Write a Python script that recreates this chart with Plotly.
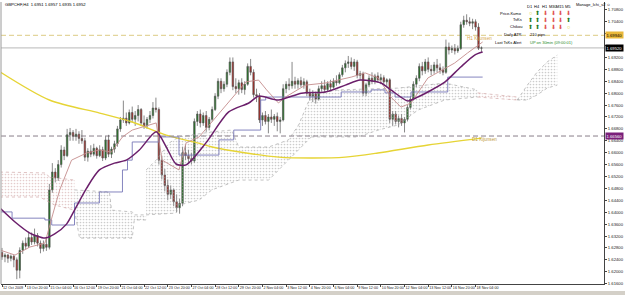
import plotly.graph_objects as go

# ---------------- data ----------------
bar_open = [1.6265,1.6250,1.6256,1.6245,1.6252,1.6240,1.6205,1.6272,1.6296,1.6286,
            1.6315,1.6300,1.6322,1.6296,1.6278,1.6292,1.6282,1.6475,1.6535,1.6515,
            1.6560,1.6609,1.6590,1.6660,1.6668,1.6655,1.6662,1.6648,1.6640,1.6585,
            1.6605,1.6595,1.6615,1.6590,1.6610,1.6582,1.6643,1.6595,1.6612,1.6630,
            1.6680,1.6710,1.6716,1.6700,1.6735,1.6712,1.6725,1.6745,1.6700,1.6690,
            1.6712,1.6725,1.6750,1.6745,1.6575,1.6525,1.6490,1.6460,1.6475,1.6435,
            1.6415,1.6430,1.6600,1.6590,1.6580,1.6572,1.6705,1.6730,1.6700,1.6725,
            1.6685,1.6712,1.6745,1.6790,1.6840,1.6815,1.6830,1.6870,1.6905,1.6822,
            1.6815,1.6835,1.6812,1.6830,1.6890,1.6870,1.6795,1.6790,1.6710,1.6725,
            1.6705,1.6720,1.6712,1.6722,1.6705,1.6710,1.6815,1.6830,1.6825,1.6840,
            1.6830,1.6842,1.6828,1.6838,1.6800,1.6790,1.6798,1.6780,1.6815,1.6825,
            1.6812,1.6832,1.6820,1.6840,1.6835,1.6862,1.6885,1.6900,1.6905,1.6890,
            1.6905,1.6860,1.6865,1.6800,1.6828,1.6850,1.6840,1.6858,1.6845,1.6852,
            1.6838,1.6845,1.6712,1.6730,1.6705,1.6715,1.6700,1.6712,1.6752,1.6780,
            1.6830,1.6850,1.6890,1.6875,1.6905,1.6880,1.6875,1.6895,1.6885,1.6878,
            1.6870,1.6955,1.6945,1.6950,1.6942,1.6950,1.7030,1.7045,1.7040,1.7035,
            1.7040,1.7022,1.6951]
bar_high = [1.6280,1.6262,1.6260,1.6258,1.6256,1.6248,1.6282,1.6305,1.6315,1.6335,
            1.6332,1.6345,1.6330,1.6305,1.6305,1.6312,1.6495,1.6565,1.6548,1.6575,
            1.6625,1.6620,1.6680,1.6683,1.6676,1.6680,1.6672,1.6676,1.6650,1.6615,
            1.6625,1.6630,1.6620,1.6625,1.6620,1.6655,1.6660,1.6620,1.6640,1.6690,
            1.6720,1.6775,1.6735,1.6745,1.6755,1.6740,1.6760,1.6750,1.6725,1.6720,
            1.6740,1.6770,1.6785,1.6752,1.6590,1.6545,1.6510,1.6490,1.6480,1.6460,
            1.6445,1.6620,1.6625,1.6610,1.6600,1.6715,1.6740,1.6745,1.6735,1.6740,
            1.6720,1.6755,1.6800,1.6850,1.6850,1.6840,1.6880,1.6920,1.6920,1.6850,
            1.6845,1.6850,1.6840,1.6900,1.6915,1.6880,1.6815,1.6800,1.6735,1.6740,
            1.6730,1.6745,1.6730,1.6735,1.6720,1.6830,1.6840,1.6850,1.6905,1.6855,
            1.6850,1.6855,1.6850,1.6845,1.6815,1.6810,1.6805,1.6825,1.6840,1.6845,
            1.6840,1.6845,1.6850,1.6860,1.6870,1.6895,1.6910,1.6925,1.6920,1.6915,
            1.6912,1.6875,1.6872,1.6835,1.6860,1.6870,1.6865,1.6870,1.6865,1.6860,
            1.6850,1.6850,1.6740,1.6740,1.6725,1.6730,1.6720,1.6760,1.6790,1.6840,
            1.6860,1.6900,1.6905,1.6915,1.6920,1.6895,1.6905,1.6915,1.6900,1.6890,
            1.6980,1.6970,1.6960,1.6965,1.6960,1.7040,1.7060,1.7065,1.7055,1.7050,
            1.7048,1.7035,1.6957]
bar_low = [1.6240,1.6232,1.6230,1.6235,1.6215,1.6175,1.6178,1.6260,1.6275,1.6280,
           1.6290,1.6292,1.6285,1.6262,1.6268,1.6270,1.6275,1.6465,1.6500,1.6505,
           1.6550,1.6575,1.6585,1.6640,1.6640,1.6640,1.6630,1.6630,1.6572,1.6570,
           1.6585,1.6588,1.6580,1.6585,1.6572,1.6575,1.6585,1.6582,1.6600,1.6620,
           1.6670,1.6700,1.6690,1.6695,1.6700,1.6690,1.6705,1.6690,1.6680,1.6680,
           1.6700,1.6715,1.6735,1.6560,1.6510,1.6470,1.6440,1.6445,1.6420,1.6400,
           1.6395,1.6420,1.6575,1.6565,1.6560,1.6565,1.6690,1.6685,1.6690,1.6670,
           1.6675,1.6705,1.6740,1.6780,1.6800,1.6805,1.6820,1.6860,1.6810,1.6800,
           1.6795,1.6800,1.6795,1.6825,1.6860,1.6785,1.6770,1.6700,1.6690,1.6695,
           1.6665,1.6700,1.6690,1.6672,1.6665,1.6705,1.6800,1.6810,1.6815,1.6815,
           1.6815,1.6820,1.6815,1.6790,1.6775,1.6770,1.6765,1.6775,1.6805,1.6800,
           1.6805,1.6810,1.6815,1.6825,1.6830,1.6855,1.6870,1.6885,1.6880,1.6875,
           1.6850,1.6845,1.6790,1.6790,1.6820,1.6830,1.6830,1.6835,1.6830,1.6830,
           1.6820,1.6700,1.6690,1.6695,1.6685,1.6690,1.6668,1.6705,1.6745,1.6775,
           1.6820,1.6840,1.6860,1.6865,1.6870,1.6860,1.6865,1.6870,1.6865,1.6860,
           1.6865,1.6930,1.6935,1.6930,1.6935,1.6945,1.7020,1.7030,1.7025,1.7015,
           1.7010,1.6945,1.6935]
bar_close = [1.6250,1.6256,1.6245,1.6252,1.6240,1.6205,1.6272,1.6296,1.6286,1.6315,
             1.6300,1.6322,1.6296,1.6278,1.6292,1.6282,1.6475,1.6535,1.6515,1.6560,
             1.6609,1.6590,1.6660,1.6668,1.6655,1.6662,1.6648,1.6640,1.6585,1.6605,
             1.6595,1.6615,1.6590,1.6610,1.6582,1.6643,1.6595,1.6612,1.6630,1.6680,
             1.6710,1.6716,1.6700,1.6735,1.6712,1.6725,1.6745,1.6700,1.6690,1.6712,
             1.6725,1.6750,1.6745,1.6575,1.6525,1.6490,1.6460,1.6475,1.6435,1.6415,
             1.6430,1.6600,1.6590,1.6580,1.6572,1.6705,1.6730,1.6700,1.6725,1.6685,
             1.6712,1.6745,1.6790,1.6840,1.6815,1.6830,1.6870,1.6905,1.6822,1.6815,
             1.6835,1.6812,1.6830,1.6890,1.6870,1.6795,1.6790,1.6710,1.6725,1.6705,
             1.6720,1.6712,1.6722,1.6705,1.6710,1.6815,1.6830,1.6825,1.6840,1.6830,
             1.6842,1.6828,1.6838,1.6800,1.6790,1.6798,1.6780,1.6815,1.6825,1.6812,
             1.6832,1.6820,1.6840,1.6835,1.6862,1.6885,1.6900,1.6905,1.6890,1.6905,
             1.6860,1.6865,1.6800,1.6828,1.6850,1.6840,1.6858,1.6845,1.6852,1.6838,
             1.6845,1.6712,1.6730,1.6705,1.6715,1.6700,1.6712,1.6752,1.6780,1.6830,
             1.6850,1.6890,1.6875,1.6905,1.6880,1.6875,1.6895,1.6885,1.6878,1.6870,
             1.6955,1.6945,1.6950,1.6942,1.6950,1.7030,1.7045,1.7040,1.7035,1.7040,
             1.7022,1.6951,1.6952]

date_tick_bars = [0, 8, 16, 24, 32, 40, 48, 56, 64, 72, 80, 88, 96, 104, 112, 120, 128, 136, 144, 152, 160]
date_tick_labels = ["12 Oct 2009", "13 Oct 20:00", "15 Oct 04:00", "16 Oct 12:00", "19 Oct 20:00",
                    "21 Oct 04:00", "22 Oct 12:00", "23 Oct 20:00", "27 Oct 04:00", "28 Oct 12:00",
                    "29 Oct 20:00", "2 Nov 04:00", "3 Nov 12:00", "4 Nov 20:00", "6 Nov 04:00",
                    "9 Nov 12:00", "10 Nov 20:00", "12 Nov 04:00", "13 Nov 12:00", "16 Nov 20:00",
                    "18 Nov 04:00"]
price_ticks = [1.6160, 1.6200, 1.6240, 1.6280, 1.6320, 1.6360, 1.6400, 1.6440, 1.6480, 1.6520,
               1.6560, 1.6600, 1.6640, 1.6680, 1.6720, 1.6760, 1.6800, 1.6840, 1.6880, 1.6920,
               1.6960, 1.7000, 1.7040, 1.7080]
# ticks whose labels sit under the price boxes on the right axis
hidden_price_ticks = [1.6960, 1.7000]

# moving averages / ichimoku lines (bar index, price)
yellow_ma_x = [-0.6, 16, 33, 44, 55.5, 66.5, 71, 82.5, 93.5, 104.5, 116, 127, 144, 162]
yellow_ma_y = [1.6871, 1.6777, 1.6733, 1.6703, 1.6659, 1.6632, 1.6619, 1.6599, 1.6585, 1.6582,
               1.6585, 1.6599, 1.6626, 1.6649]
purple_ma_x = [-0.7, 4.4, 9.4, 14.5, 17.8, 21.8, 24.5, 28.6, 32.9, 38, 42, 46.4, 52.1, 55.5, 58.8,
               62.2, 68.9, 76.6, 83.4, 86.7, 93.4, 101.2, 109.2, 116, 121, 128, 131.4, 137.1,
               140.5, 143.9, 149.6, 155, 159.7, 162.4]
purple_ma_y = [1.6414, 1.6367, 1.6330, 1.6313, 1.6327, 1.6360, 1.6407, 1.6481, 1.6542, 1.6565,
               1.6575, 1.6609, 1.6670, 1.6619, 1.6562, 1.6559, 1.6633, 1.6737, 1.6767, 1.6790,
               1.6777, 1.6800, 1.6804, 1.6827, 1.6844, 1.6834, 1.6811, 1.6774, 1.6787, 1.6804,
               1.6837, 1.6888, 1.6928, 1.6938]
tenkan_x = [-0.7, 4.4, 9.4, 14.5, 17.1, 19.5, 23.5, 28.6, 32.9, 37, 40.7, 44, 52.1, 54.1, 59.8,
            62.2, 66.6, 70.9, 76.6, 82.4, 86.7, 89.4, 93.4, 95.8, 102.5, 109.2, 118, 122.7,
            127.1, 131.4, 134.8, 138.2, 143.9, 152.9, 157.3, 162.4]
tenkan_y = [1.6273, 1.6256, 1.6283, 1.6296, 1.6391, 1.6475, 1.6575, 1.6599, 1.6609, 1.6602,
            1.6653, 1.6676, 1.6700, 1.6575, 1.6542, 1.6633, 1.6653, 1.6703, 1.6767, 1.6838,
            1.6844, 1.6811, 1.6767, 1.6787, 1.6827, 1.6834, 1.6854, 1.6868, 1.6851, 1.6787,
            1.6753, 1.6767, 1.6851, 1.6901, 1.6935, 1.6972]
kijun_x = [-0.7, 3.4, 14.5, 16.8, 24.5, 32.9, 40.7, 42.4, 44, 53.1, 59.8, 73.3, 78.3, 87.4, 89.1,
           114.6, 124.7, 129.4, 132.8, 138.2, 150.6, 162.4]
kijun_y = [1.6401, 1.6380, 1.6374, 1.6357, 1.6431, 1.6468, 1.6542, 1.6575, 1.6636, 1.6653,
           1.6592, 1.6643, 1.6676, 1.6777, 1.6787, 1.6804, 1.6811, 1.6801, 1.6787, 1.6804,
           1.6854, 1.6854]

# kumo (cloud) pieces: (colour key, top x, top y, bottom x, bottom y)
kumo_1 = ("bear", [-0.7, 14.5, 16.1, 24.5], [1.6535, 1.6532, 1.6518, 1.6508],
          [-0.7, 12.8, 17.8, 24.5], [1.6451, 1.6451, 1.6424, 1.6407])
kumo_2 = ("bull", [24.5, 36.3, 37, 44, 44.7, 48.7], [1.6475, 1.6468, 1.6407, 1.6401, 1.6391, 1.6391],
          [24.5, 26.2, 44, 44.7, 48.7], [1.6407, 1.6313, 1.6313, 1.6374, 1.6374])
kumo_3 = ("bull", [48.7, 52.1, 56.5, 59.8, 70.9, 77.6, 80, 90.1, 96.8, 100.2, 104.5],
          [1.6542, 1.6575, 1.6633, 1.6653, 1.6670, 1.6676, 1.6619, 1.6619, 1.6643, 1.6693, 1.6794],
          [48.7, 58.8, 59.8, 66.6, 70.9, 80, 90.1, 96.8, 100.2, 104.5],
          [1.6391, 1.6397, 1.6424, 1.6441, 1.6475, 1.6508, 1.6508, 1.6575, 1.6609, 1.6653])
kumo_4 = ("bull", [104.5, 113.6, 133.8, 149.6, 160.7], [1.6794, 1.6811, 1.6817, 1.6834, 1.6811],
          [104.5, 120.3, 127.1, 133.8, 140.5, 149.6, 160.7],
          [1.6653, 1.6653, 1.6676, 1.6693, 1.6743, 1.6777, 1.6787])
kumo_5 = ("bear", [160.7, 174.1], [1.6801, 1.6787], [160.7, 174.1], [1.6787, 1.6777])
kumo_6 = ("bull", [174.1, 177.5, 180.8, 184.2, 187.6], [1.6777, 1.6827, 1.6871, 1.6905, 1.6928],
          [174.1, 177.5, 180.8, 184.2, 187.6], [1.6777, 1.6777, 1.6794, 1.6817, 1.6827])

h1_kijun_level = 1.6994
bid_level = 1.6952
d1_kijun_level = 1.6656

tf_headers = ["D1", "H4", "H1", "M30", "M15", "M5"]
signal_rows = ["Price-Kumo", "TsKs", "Chikou"]
signals = [["o", "up", "dn", "dn", "dn", "dn"],
           ["up", "up", "dn", "dn", "dn", "up"],
           ["up", "up", "dn", "dn", "dn", "o"]]

# ---------------- layout helpers ----------------
W, H = 625, 295
ML, MR, MT, MB = 1, 18, 2, 11
PW, PH = W - ML - MR, H - MT - MB
FONT = "Liberation Sans"


def px(x):
    return (x - ML) / PW


def py(y):
    return 1 - (y - MT) / PH


fig = go.Figure()

kumo_colors = {"bear": "#c99a9a", "bull": "#9a9a9a"}
for key, tx, ty, bx, by in [kumo_1, kumo_2, kumo_3, kumo_4, kumo_5, kumo_6]:
    c = kumo_colors[key]
    fig.add_trace(go.Scatter(x=bx, y=by, mode="lines", line=dict(color=c, width=0.6, dash="dot"),
                             hoverinfo="skip", showlegend=False))
    fig.add_trace(go.Scatter(x=tx, y=ty, mode="lines", line=dict(color=c, width=0.6, dash="dot"),
                             fill="tonexty", fillcolor="rgba(0,0,0,0)",
                             fillpattern=dict(shape=".", fgcolor=c, bgcolor="rgba(0,0,0,0)",
                                              size=3, solidity=0.25),
                             hoverinfo="skip", showlegend=False))

fig.add_trace(go.Scatter(x=yellow_ma_x, y=yellow_ma_y, mode="lines",
                         line=dict(color="#e6d435", width=1.4, shape="spline", smoothing=0.8),
                         showlegend=False))
fig.add_trace(go.Scatter(x=kijun_x, y=kijun_y, mode="lines",
                         line=dict(color="#7777b8", width=0.9, shape="hv"), showlegend=False))
fig.add_trace(go.Scatter(x=tenkan_x, y=tenkan_y, mode="lines",
                         line=dict(color="#c48c8c", width=0.9), showlegend=False))
fig.add_trace(go.Scatter(x=purple_ma_x, y=purple_ma_y, mode="lines",
                         line=dict(color="#6b1f6b", width=1.5, shape="spline", smoothing=0.7),
                         showlegend=False))

fig.add_trace(go.Candlestick(
    x=list(range(len(bar_close))), open=bar_open, high=bar_high, low=bar_low, close=bar_close,
    increasing=dict(line=dict(color="#555555", width=0.7), fillcolor="#1c7a1c"),
    decreasing=dict(line=dict(color="#555555", width=0.7), fillcolor="#b8221c"),
    whiskerwidth=0, showlegend=False))

shapes = [
    dict(type="line", xref="paper", x0=0, x1=1, yref="y", y0=h1_kijun_level, y1=h1_kijun_level,
         line=dict(color="#e3d59c", width=1.3, dash="5px,3px"), layer="below"),
    dict(type="line", xref="paper", x0=0, x1=1, yref="y", y0=bid_level, y1=bid_level,
         line=dict(color="#b8b8b8", width=1), layer="below"),
    dict(type="line", xref="paper", x0=0, x1=1, yref="y", y0=d1_kijun_level, y1=d1_kijun_level,
         line=dict(color="#8a7f8a", width=1, dash="5px,3px"), layer="below"),
    dict(type="line", xref="paper", x0=0, x1=0, yref="paper", y0=0, y1=1,
         line=dict(color="#9a9a9a", width=1)),
    dict(type="rect", xref="paper", x0=px(-2), x1=px(630), yref="paper", y0=py(291), y1=py(297),
         line=dict(width=0), fillcolor="#d4d0c8"),
]

ann = []


def txt(x, y, s, size=4.2, color="#111111", xanchor="left", bg=None):
    d = dict(x=px(x), y=py(y), xref="paper", yref="paper", text=s, showarrow=False,
             xanchor=xanchor, yanchor="middle", font=dict(family=FONT, size=size, color=color))
    if bg:
        d.update(bgcolor=bg, borderpad=0.5)
    ann.append(d)


txt(3, 5, "GBPCHF,H4  1.6951 1.6957 1.6935 1.6952", size=4.2, color="#000000")
txt(577, 5, "Manage_Ichi_v2 \u263a", size=4.0, color="#000000")

col_x = [533, 540, 548, 556, 563, 571]
row_y = [13, 20, 27]
for cx, h in zip(col_x, tf_headers):
    txt(cx, 6, h, size=4.0, color="#000000", xanchor="center")
for ry, name, row in zip(row_y, signal_rows, signals):
    txt(527, ry, name, size=4.0, color="#000000", xanchor="right")
    for cx, s in zip(col_x, row):
        if s == "up":
            txt(cx, ry, "\u2b06", size=5.5, color="#1b7a1b", xanchor="center")
        elif s == "dn":
            txt(cx, ry, "\u2b07", size=5.5, color="#e05050", xanchor="center")
        else:
            txt(cx, ry, "\u25cb", size=5.5, color="#e0d020", xanchor="center")
txt(527, 34.5, "Daily ATR", size=4.0, color="#000000", xanchor="right")
txt(531, 34.5, "210 pips", size=4.0, color="#000000")
txt(527, 42.5, "Last TsKs Alert", size=4.0, color="#000000", xanchor="right")
txt(531, 42.5, "UP on 30min (09:00:01)", size=4.0, color="#2a8a2a")

txt(467, 38.5, "H1 Kijunsen", size=4.6, color="#d8a84c")
txt(472, 139.5, "D1 Kijunsen", size=4.6, color="#c09a3a")

# right-axis price boxes
for lvl, bg, fg in [(h1_kijun_level, "#eab83a", "#000000"), (bid_level, "#000000", "#ffffff"),
                    (d1_kijun_level, "#7a207a", "#ffffff")]:
    ann.append(dict(x=1, y=lvl, xref="paper", yref="y", text=f"{lvl:.5f}", showarrow=False,
                    xanchor="left", yanchor="middle", xshift=1, bgcolor=bg, borderpad=0.5,
                    font=dict(family=FONT, size=4.2, color=fg)))

fig.update_layout(
    width=W, height=H, margin=dict(l=ML, r=MR, t=MT, b=MB),
    paper_bgcolor="#ffffff", plot_bgcolor="#ffffff", showlegend=False,
    shapes=shapes, annotations=ann,
    xaxis=dict(range=[-0.34, 203.4], tickvals=date_tick_bars, ticktext=date_tick_labels,
               tickangle=0,
               tickfont=dict(family=FONT, size=3.7, color="#222222"), ticks="outside", ticklen=2,
               tickcolor="#444444", showline=True, linecolor="#444444", linewidth=1,
               showgrid=False, zeroline=False, ticklabelposition="outside right",
               rangeslider=dict(visible=False), fixedrange=True),
    yaxis=dict(side="right", range=[1.61588, 1.71063], tickvals=price_ticks,
               ticktext=["" if v in hidden_price_ticks else f"{v:.5f}" for v in price_ticks],
               tickfont=dict(family=FONT, size=4.2, color="#222222"), ticks="outside", ticklen=2,
               tickcolor="#444444", showline=True, linecolor="#444444", linewidth=1,
               showgrid=False, zeroline=False, fixedrange=True),
)

fig.write_html("out.html")
